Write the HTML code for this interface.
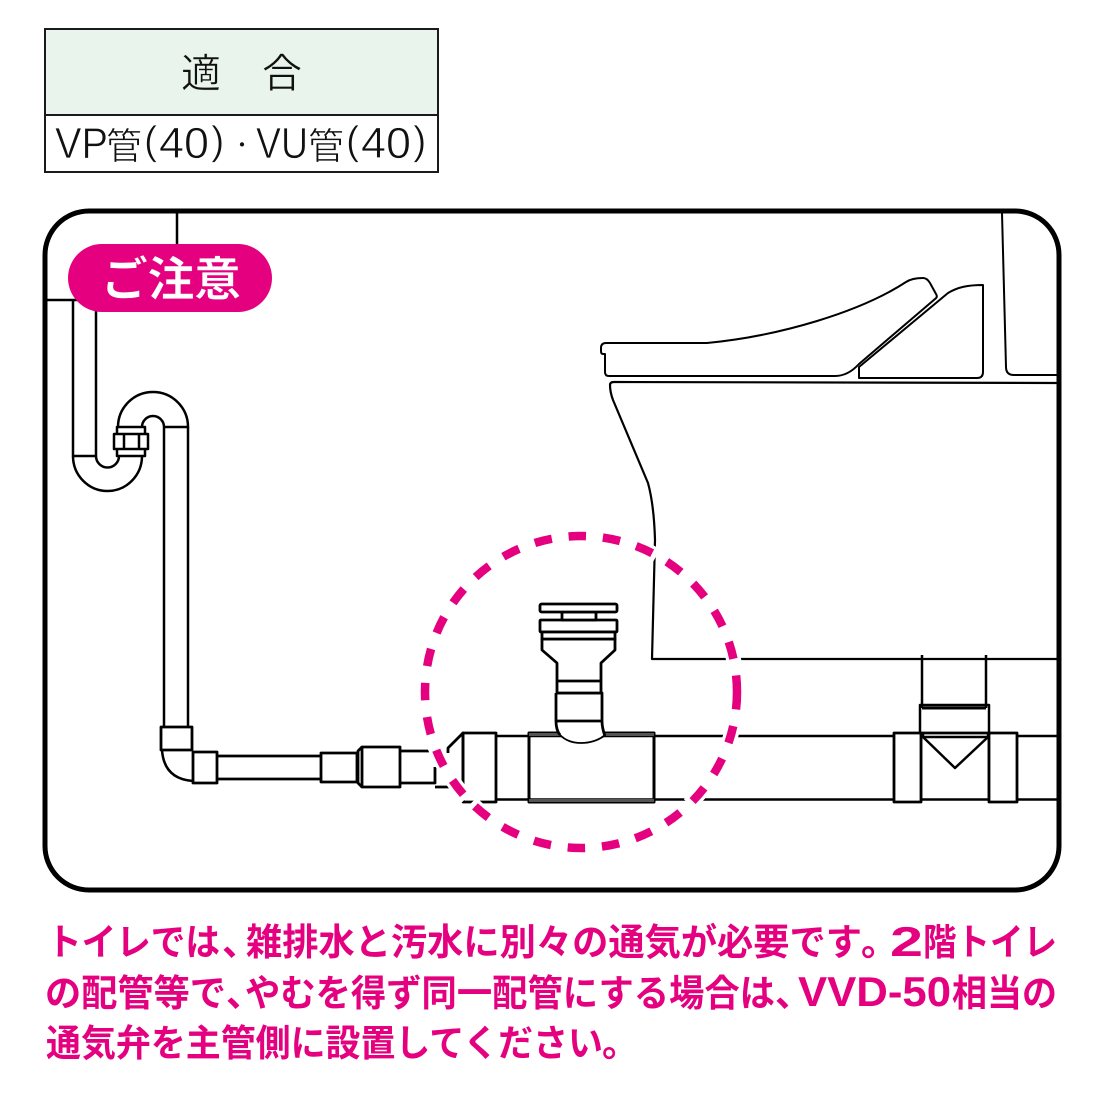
<!DOCTYPE html>
<html lang="ja">
<head>
<meta charset="utf-8">
<title>通気弁 適合</title>
<style>
html,body{margin:0;padding:0;background:#fff}
svg{display:block}
text{font-family:"Liberation Sans","Noto Sans CJK JP",sans-serif}
.h{font-family:"Noto Sans CJK JP",sans-serif}
</style>
</head>
<body>
<svg width="1100" height="1100" viewBox="0 0 1100 1100" xmlns="http://www.w3.org/2000/svg">
<rect width="1100" height="1100" fill="#fff"/>

<!-- table -->
<rect x="45.500" y="29" width="393" height="86" fill="#e9f4ec"/>
<rect x="45" y="29" width="393" height="143" fill="none" stroke="#1a1a1a" stroke-width="2"/>
<line x1="45" y1="115" x2="438" y2="115" stroke="#1a1a1a" stroke-width="2"/>
<g fill="#111" stroke="#e9f4ec" stroke-width="0.500" paint-order="fill stroke">
  <text class="h" x="181" y="87" font-size="40">適</text>
  <text class="h" x="262" y="87" font-size="40">合</text>
</g>
<g fill="#111" stroke="#fff" stroke-width="0.700" paint-order="fill stroke">
  <text x="55" y="158" font-size="44" textLength="53" lengthAdjust="spacingAndGlyphs">VP</text>
  <text class="h" x="106" y="159" font-size="37" textLength="36" lengthAdjust="spacingAndGlyphs">管</text>
  <text x="144" y="154" font-size="40">(</text>
  <text x="159" y="158" font-size="44" textLength="50" lengthAdjust="spacingAndGlyphs">40</text>
  <text x="211" y="154" font-size="40">)</text>
  <text x="256" y="158" font-size="44" textLength="52" lengthAdjust="spacingAndGlyphs">VU</text>
  <text class="h" x="308" y="159" font-size="37" textLength="36" lengthAdjust="spacingAndGlyphs">管</text>
  <text x="346" y="154" font-size="40">(</text>
  <text x="361" y="158" font-size="44" textLength="50" lengthAdjust="spacingAndGlyphs">40</text>
  <text x="413" y="154" font-size="40">)</text>
</g>
<text class="h" x="232" y="152" font-size="20" fill="#111">・</text>

<!-- frame -->
<rect x="45" y="211" width="1014" height="679" rx="44" ry="44" fill="#fff" stroke="#000" stroke-width="5"/>

<g fill="none" stroke="#000" stroke-width="2.500" stroke-linejoin="round">
  <!-- top-left wall -->
  <path d="M177 212V250M46 300H78"/>
  <!-- left vertical pipe + trap -->
  <path d="M73 300V456H96M96 300V456"/>
  <path d="M73 456A34.500 35 0 0 0 142 456"/>
  <path d="M96 456A11.500 11.500 0 0 0 119 456"/>
  <path d="M118 427A35 35 0 0 1 188 427H164"/>
  <path d="M142 427A11 11 0 0 1 164 427"/>
  <rect x="117" y="427" width="28" height="29" fill="#fff"/>
  <rect x="114" y="434" width="34" height="15" fill="#fff"/>
  <path d="M124 434V449M139 434V449"/>
  <path d="M164 427V727M188 427V727"/>
  <!-- elbow -->
  <rect x="161" y="727" width="31" height="23" stroke-width="2.800"/>
  <path d="M162 750Q164 779 193 781"/>
  <rect x="193" y="752" width="24" height="31" stroke-width="2.800"/>
  <path d="M217 756H321M217 779H321" stroke-width="2.800"/>
  <rect x="321" y="753" width="36" height="29" stroke-width="2.800"/>
  <path d="M362 747L358 751V783L362 787" stroke-width="2.800"/>
  <rect x="362" y="747" width="38" height="40" stroke-width="2.800"/>
  <path d="M400 751H436M400 783H435V767M435 787H450" stroke-width="2.800"/>
  <path d="M448 753V748L463 733V784" stroke-width="2.800"/>
  <!-- main pipe -->
  <rect x="463" y="733" width="33" height="69" stroke-width="2.800"/>
  <path d="M496 736H894M496 799.500H894"/>
  <rect x="529" y="733" width="125" height="69" stroke-width="3"/>
  <path d="M529 734.500H654M529 800.500H654" stroke="#555" stroke-width="3"/>

  <!-- right tee -->
  <path d="M1017 736H1057M1017 799.500H1057"/>
  <rect x="921" y="733" width="68" height="66.500" stroke-width="2.500"/>
  <rect x="894" y="733" width="27" height="69" fill="#fff" stroke-width="2.800"/>
  <rect x="989" y="733" width="28" height="69" fill="#fff" stroke-width="2.800"/>
  <rect x="920" y="705" width="69" height="28"/>
  <path d="M922 708H986" stroke-width="3"/>
  <path d="M922 655V708M986 655V708"/>
  <path d="M923 737H988"/>
  <path d="M923 733V737L955 768L988 737V733"/>

  <!-- toilet -->
  <path d="M601 348Q601 343 606 343H707C780 336 860 312 906 282Q912 278 923 278Q927 278 930 283L936 294Q938 297 935 299L859 364Q848 376 835 376H609Q605 376 605 372V354H603Q601 354 601 351Z" stroke-width="2"/>
  <path d="M859 378V367L948 293C958 287 968 285 983 285V372Q983 378 977 378Z" stroke-width="2"/>
  <path d="M1002 213L1006 367Q1006 375 1014 375H1058" stroke-width="2"/>
  <path d="M1058 383L614 382Q610 382 610 385Q610 392 613 400L648 483Q654 505 655 540L652 659H1058" stroke-width="2.200"/>
</g>

<!-- valve -->
<path d="M556 693V721Q556 730 558 733Q566 743 580 743Q597 743 605 733Q602 728 602 721V693Z" fill="#fff"/>
<g fill="none" stroke="#000" stroke-width="2.800" stroke-linejoin="round">
  <path d="M556 693V721Q556 730 560 735M605 736Q602 728 602 721V693H556M556 721H602"/>
</g>
<path d="M560 735Q568 743 581 743Q594 743 604 736" fill="none" stroke="#000" stroke-width="1.800"/>
<g fill="#fff" stroke="#000" stroke-width="2.800" stroke-linejoin="round">
  <path d="M542 639V650L557 663V693H601V663L615 650V639Z"/>
  <path d="M557 681H601"/>
  <rect x="540" y="620" width="77" height="12" rx="1"/>
  <rect x="542" y="632" width="73" height="7"/>
  <rect x="562" y="612" width="34" height="8"/>
  <rect x="540" y="604" width="77" height="8" rx="1.500"/>
</g>

<!-- dashed circle -->
<circle cx="581" cy="692" r="156" fill="none" stroke="#fff" stroke-width="15" stroke-dasharray="27.500 6.900" stroke-dashoffset="5"/>
<circle cx="581" cy="692" r="156" fill="none" stroke="#e4007f" stroke-width="8.500" stroke-dasharray="17.500 16.900"/>

<!-- pill -->
<rect x="68" y="244" width="204" height="68" rx="34" fill="#e4007f"/>
<text class="h" x="101" y="296" font-size="47" font-weight="700" fill="#fff" stroke="#e4007f" stroke-width="0.500" paint-order="fill stroke" textLength="140" lengthAdjust="spacing">ご注意</text>

<!-- caption -->
<g font-size="37" font-weight="700" fill="#e4007f">
  <text class="h" x="47" y="955" textLength="173" lengthAdjust="spacingAndGlyphs">トイレでは</text>
  <text class="h" x="222" y="955">、</text>
  <text class="h" x="246" y="955" textLength="616" lengthAdjust="spacingAndGlyphs">雑排水と汚水に別々の通気が必要です</text>
  <text class="h" x="861" y="955">。</text>
  <text x="890" y="956" font-size="42" textLength="33" lengthAdjust="spacingAndGlyphs">2</text>
  <text class="h" x="923" y="955" textLength="134" lengthAdjust="spacingAndGlyphs">階トイレ</text>

  <text class="h" x="45" y="1006" textLength="181" lengthAdjust="spacingAndGlyphs">の配管等で</text>
  <text class="h" x="226" y="1006">、</text>
  <text class="h" x="245" y="1006" textLength="530" lengthAdjust="spacingAndGlyphs">やむを得ず同一配管にする場合は</text>
  <text class="h" x="775" y="1006">、</text>
  <text x="798" y="1006" font-size="42" textLength="153" lengthAdjust="spacingAndGlyphs">VVD-50</text>
  <text class="h" x="952" y="1006" textLength="105" lengthAdjust="spacingAndGlyphs">相当の</text>

  <text class="h" x="46" y="1056" textLength="557" lengthAdjust="spacingAndGlyphs">通気弁を主管側に設置してください</text>
  <text class="h" x="602" y="1056">。</text>
</g>
</svg>
</body>
</html>
